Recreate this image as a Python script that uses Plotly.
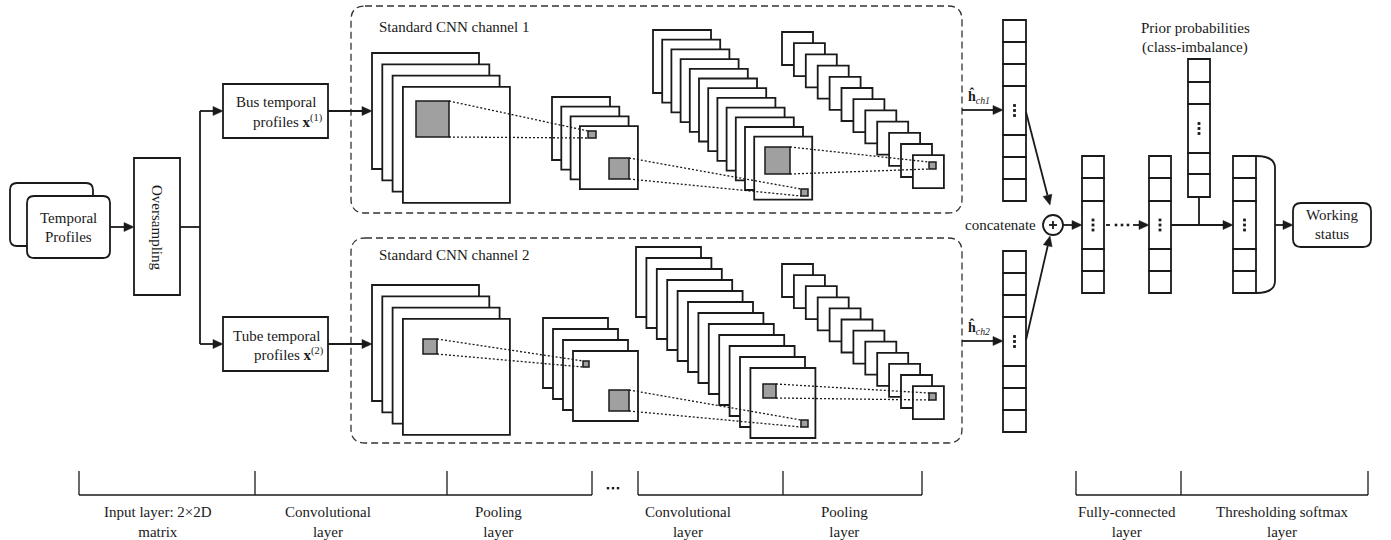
import math
import plotly.graph_objects as go

# ---------------- content / structure ----------------
W, H = 1391, 540
INK = "#1a1a1a"
GRAY = "#a0a0a0"
FONT = "Liberation Serif"
FS = 15

# feature-map stacks: count per stage (conv1, pool1, conv2, pool2)
stack_counts = [4, 4, 12, 12]
ch1_first = [(372, 53), (552, 97), (653, 30), (782, 32)]
ch1_step = [(10.3, 11.3), (9.3, 9.7), (9.2, 9.7), (11.9, 11.2)]
ch1_size = [(107, 116), (58, 63), (58, 63), (31, 33)]
ch2_first = [(372, 285), (543, 318), (636, 247), (782, 264)]
ch2_step = [(10.3, 11.3), (10.0, 11.0), (10.4, 11.0), (11.9, 11.1)]
ch2_size = [(107, 116), (65, 70), (65, 70), (31, 33)]

# gray receptive-field squares (x0, y0, x1, y1)
ch1_gray = [(416, 101, 449, 137), (588, 131, 596, 138), (609, 158, 629, 179),
            (765, 147, 790, 174), (801, 189, 808, 196), (929, 162, 936, 169)]
ch2_gray = [(423, 339, 437, 354), (583, 361, 589, 367), (609, 390, 629, 411),
            (763, 384, 776, 398), (801, 420, 808, 427), (929, 393, 936, 400)]
# dotted projection lines (x0, y0, x1, y1)
ch1_proj = [(449, 101, 588, 131), (449, 137, 588, 138),
            (629, 158, 801, 189), (629, 179, 801, 196),
            (790, 147, 929, 162), (790, 174, 929, 169)]
ch2_proj = [(437, 339, 583, 361), (437, 354, 583, 367),
            (629, 390, 801, 420), (629, 411, 801, 427),
            (776, 384, 929, 393), (776, 398, 929, 400)]

# vectors: (x0, x1, cell boundaries, index of cell with dots)
vectors = [
    (1003, 1026, [20, 42, 64, 86, 135, 157, 179, 201], 3),
    (1003, 1026, [251, 273, 295, 317, 366, 388, 410, 432], 3),
    (1082, 1104, [156, 178, 201, 249, 271, 293], 2),
    (1149, 1171, [156, 178, 201, 249, 271, 293], 2),
    (1188, 1210, [59, 82, 104, 153, 174, 197], 2),
    (1233, 1256, [156, 178, 201, 249, 271, 293], 2),
]

# bottom layer brackets
bracket_groups = [[79, 255, 447, 592], [638, 783, 922], [1076, 1181, 1368]]
bottom_labels = ["Input layer: 2×2D<br>matrix", "Convolutional<br>layer", "Pooling<br>layer",
                 "Convolutional<br>layer", "Pooling<br>layer",
                 "Fully-connected<br>layer", "Thresholding softmax<br>layer"]
bottom_label_x = [158, 328, 498, 688, 844, 1127, 1282]

shapes = []
annotations = []


def rect(x0, y0, x1, y1, fill="white", w=1.8, color=INK):
    shapes.append(dict(type="rect", xref="x", yref="y", x0=x0, y0=y0, x1=x1, y1=y1,
                       line=dict(color=color, width=w), fillcolor=fill, layer="above"))


def line(x0, y0, x1, y1, w=1.8, dash="solid", color=INK):
    shapes.append(dict(type="line", xref="x", yref="y", x0=x0, y0=y0, x1=x1, y1=y1,
                       line=dict(color=color, width=w, dash=dash), layer="above"))


def path(d, w=1.8, dash="solid", fill="rgba(0,0,0,0)", color=INK):
    shapes.append(dict(type="path", xref="x", yref="y", path=d,
                       line=dict(color=color, width=w, dash=dash), fillcolor=fill, layer="above"))


def rrect(x0, y0, x1, y1, r, **kw):
    d = (f"M {x0+r},{y0} L {x1-r},{y0} Q {x1},{y0} {x1},{y0+r} L {x1},{y1-r} "
         f"Q {x1},{y1} {x1-r},{y1} L {x0+r},{y1} Q {x0},{y1} {x0},{y1-r} "
         f"L {x0},{y0+r} Q {x0},{y0} {x0+r},{y0} Z")
    path(d, **kw)


def arrow(x0, y0, x1, y1, head=10, hw=4.5, w=1.8):
    dx, dy = x1 - x0, y1 - y0
    L = math.hypot(dx, dy)
    ux, uy = dx / L, dy / L
    bx, by = x1 - ux * head, y1 - uy * head
    px, py = -uy, ux
    line(x0, y0, bx, by, w=w)
    path(f"M {x1},{y1} L {bx+px*hw},{by+py*hw} L {bx-px*hw},{by-py*hw} Z",
         w=0.5, fill=INK)


def text(x, y, s, size=FS, angle=0, xanchor="center"):
    annotations.append(dict(x=x, y=y, xref="x", yref="y", text=s, showarrow=False,
                            font=dict(family=FONT, size=size, color=INK),
                            textangle=angle, xanchor=xanchor, yanchor="middle"))


def dots_v(cx, cy, gap=5, s=1.4):
    for k in (-1, 0, 1):
        rect(cx - s, cy + k * gap - s, cx + s, cy + k * gap + s, fill=INK, w=0)


# ---------------- input part ----------------
rrect(10, 183, 93, 246, 7)
rrect(27, 196, 110, 258, 7, fill="white")
text(68, 218, "Temporal")
text(68, 237, "Profiles")
arrow(110, 227, 134, 227)
rect(134, 158, 180, 295)
text(157, 227, "Oversampling", angle=90)
line(180, 227, 200, 227)
line(200, 111, 200, 344)
arrow(200, 111, 223, 111)
arrow(200, 344, 223, 344)
rect(223, 84, 328, 138)
text(276, 102, "Bus temporal")
text(288, 121, "profiles <b>x</b><sup>(1)</sup>")
rect(223, 317, 328, 371)
text(276, 336, "Tube temporal")
text(289, 354, "profiles <b>x</b><sup>(2)</sup>")

# ---------------- CNN channels ----------------
rrect(351, 6, 962, 213, 14, w=1.3, dash="7px,4px", color="#333")
rrect(351, 238, 962, 443, 14, w=1.3, dash="7px,4px", color="#333")
text(377, 27, "Standard CNN channel 1", xanchor="left")
text(377, 255, "Standard CNN channel 2", xanchor="left")
arrow(328, 111, 372, 111)
arrow(328, 344, 372, 344)

for firsts, steps, sizes, grays, projs in [
        (ch1_first, ch1_step, ch1_size, ch1_gray, ch1_proj),
        (ch2_first, ch2_step, ch2_size, ch2_gray, ch2_proj)]:
    for n, (fx, fy), (sx, sy), (w, h) in zip(stack_counts, firsts, steps, sizes):
        for i in range(n):
            x0, y0 = fx + i * sx, fy + i * sy
            rect(x0, y0, x0 + w, y0 + h)
    for (x0, y0, x1, y1) in grays:
        rect(x0, y0, x1, y1, fill=GRAY, w=1.5)
    for (x0, y0, x1, y1) in projs:
        line(x0, y0, x1, y1, w=1.3, dash="2px,2px")

# ---------------- right part ----------------
for (x0, x1, bounds, dcell) in vectors:
    for i in range(len(bounds) - 1):
        rect(x0, bounds[i], x1, bounds[i + 1])
    dots_v((x0 + x1) / 2, (bounds[dcell] + bounds[dcell + 1]) / 2)

arrow(962, 110, 1003, 110)
arrow(962, 341, 1003, 341)
text(979, 96, "<b>ĥ</b><sub><i>ch1</i></sub>", size=14)
text(979, 327, "<b>ĥ</b><sub><i>ch2</i></sub>", size=14)

shapes.append(dict(type="circle", xref="x", yref="y", x0=1043, y0=215, x1=1063, y1=235,
                   line=dict(color=INK, width=1.8), fillcolor="white", layer="above"))
line(1049, 225, 1057, 225, w=1.8)
line(1053, 221, 1053, 229, w=1.8)
text(1000, 225, "concatenate")
arrow(1026, 112, 1050, 205)
arrow(1026, 340, 1050, 236)
arrow(1063, 225, 1082, 225)

# dotted arrow between FC layers
line(1106, 225, 1110, 225, w=1.8)
for dx in (1116, 1122, 1128):
    rect(dx - 1.3, 223.7, dx + 1.3, 226.3, fill=INK, w=0)
arrow(1133, 225, 1149, 225)

line(1199, 197, 1199, 225)
arrow(1171, 225, 1233, 225)
text(1195, 28, "Prior probabilities")
text(1195, 47, "(class-imbalance)")

path("M 1256,156 Q 1275,156 1275,168 L 1275,281 Q 1275,293 1256,293")
arrow(1275, 225, 1293, 225)
rrect(1293, 203, 1371, 247, 8)
text(1332, 215, "Working")
text(1332, 234, "status")

# ---------------- bottom brackets ----------------
for grp in bracket_groups:
    line(grp[0], 495, grp[-1], 495, w=1.3)
    for xt in grp:
        line(xt, 471, xt, 495, w=1.3)
for dx in (608, 613, 618):
    rect(dx - 1.2, 487, dx + 1.2, 489.4, fill=INK, w=0)
for lab, lx in zip(bottom_labels, bottom_label_x):
    text(lx, 522, lab)

fig = go.Figure()
fig.add_trace(go.Scatter(x=[0], y=[0], mode="markers", marker=dict(opacity=0),
                         hoverinfo="skip", showlegend=False))
fig.update_layout(
    width=W, height=H, margin=dict(l=0, r=0, t=0, b=0),
    paper_bgcolor="white", plot_bgcolor="white",
    xaxis=dict(range=[0, W], visible=False, fixedrange=True),
    yaxis=dict(range=[H, 0], visible=False, fixedrange=True),
    shapes=shapes, annotations=annotations, showlegend=False,
)
fig.write_html(
    "out.html",
    config={"displayModeBar": False},
    post_script="document.body.style.margin='0';document.body.style.overflow='hidden';",
)
